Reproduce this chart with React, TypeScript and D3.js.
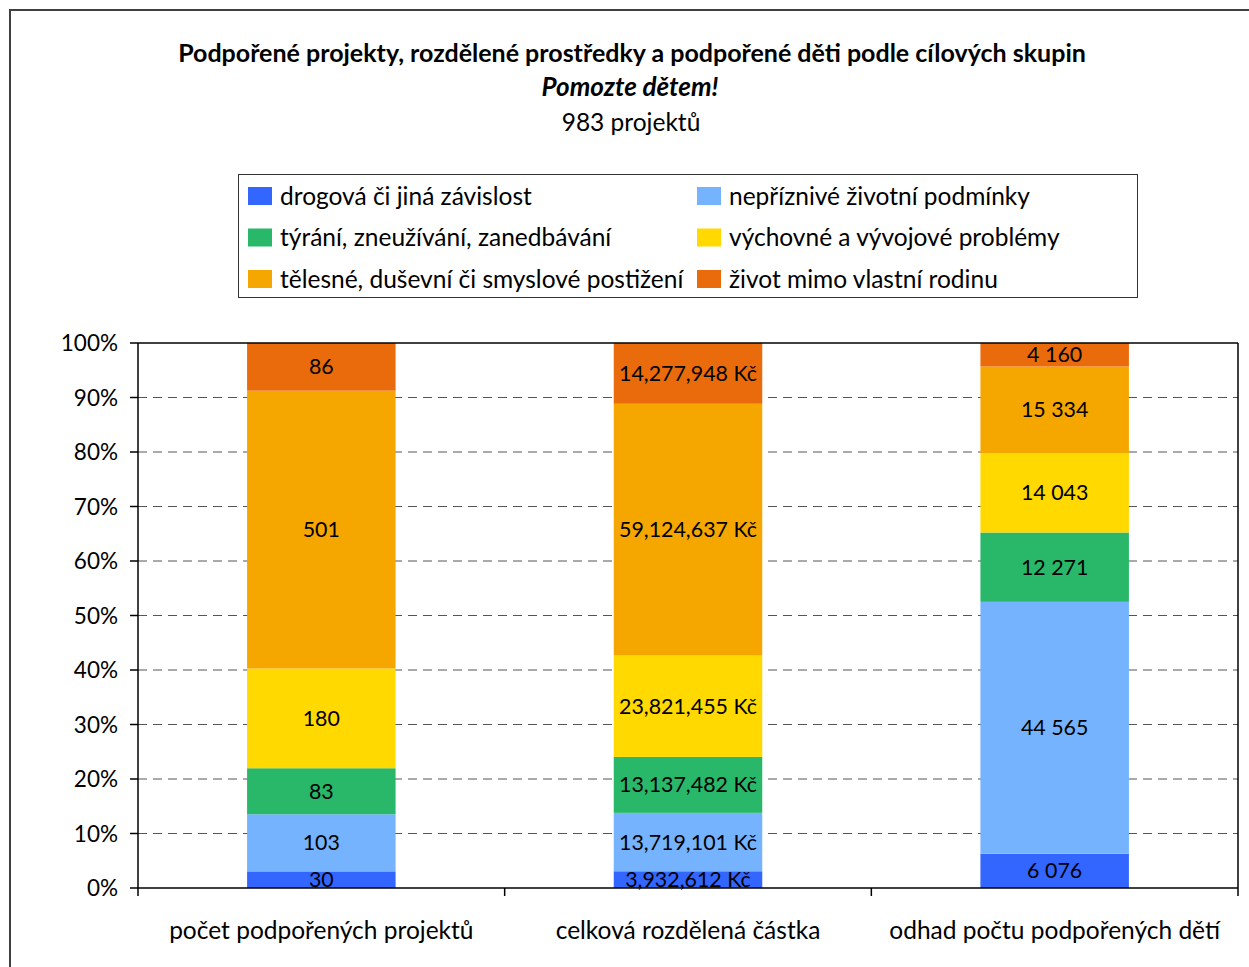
import React from "react";
import * as d3 from "d3";

const categories = ["počet podpořených projektů", "celková rozdělená částka", "odhad počtu podpořených dětí"];
const seriesNames = [
  "drogová či jiná závislost",
  "nepříznivé životní podmínky",
  "týrání, zneužívání, zanedbávání",
  "výchovné a vývojové problémy",
  "tělesné, duševní či smyslové postižení",
  "život mimo vlastní rodinu",
];
const colors = ["#3366FF", "#75B3FF", "#29B86A", "#FFD900", "#F5A700", "#EA6B0C"];
const projects = [30, 103, 83, 180, 501, 86];
const amounts = [3932612, 13719101, 13137482, 23821455, 59124637, 14277948];
const children = [6076, 44565, 12271, 14043, 15334, 4160];
const yTicks = [0, 0.1, 0.2, 0.3, 0.4, 0.5, 0.6, 0.7, 0.8, 0.9, 1];

const values = [projects, amounts, children];
const fmt = [
  (v: number) => String(v),
  (v: number) => d3.format(",")(v) + " Kč",
  (v: number) => d3.format(",")(v).replace(/,/g, " "),
];

const W = 1249, H = 967;
const L = 138, R = 1238, T = 343, B = 888;
const FONT = "Lato, 'Open Sans', sans-serif";

export default function App() {
  const x = d3.scaleBand<string>().domain(categories).range([L, R]).paddingInner(0.595).paddingOuter(0.2975);
  const y = d3.scaleLinear().domain([0, 1]).range([B, T]);
  const step = x.step();

  const segs: any[] = [];
  values.forEach((vals, ci) => {
    const total = d3.sum(vals);
    let acc = 0;
    vals.forEach((v, si) => {
      const y0 = acc / total;
      acc += v;
      const y1 = acc / total;
      segs.push({ ci, si, y0, y1, v });
    });
  });

  return (
    <svg width={W} height={H} style={{ position: "absolute", left: 0, top: 0 }} fontFamily={FONT}>
      <rect x={0} y={0} width={W} height={H} fill="#fff" />
      <rect x={10} y={10} width={W + 20} height={H + 20} fill="none" stroke="#404040" strokeWidth={2} />
      <text x={632} y={61.5} textAnchor="middle" fontSize={25} fontWeight="bold">Podpořené projekty, rozdělené prostředky a podpořené děti podle cílových skupin</text>
      <text x={630} y={95.5} textAnchor="middle" fontSize={26} fontWeight="bold" fontStyle="italic">Pomozte dětem!</text>
      <text x={631} y={130.5} textAnchor="middle" fontSize={24.5}>983 projektů</text>

      {/* legend */}
      <rect x={238.5} y={174.5} width={899} height={123} fill="#fff" stroke="#333" strokeWidth={1} />
      {seriesNames.map((n, i) => {
        const col = i % 2, row = Math.floor(i / 2);
        const lx = col === 0 ? 248 : 697;
        const ly = 196 + row * 41.5;
        return (
          <g key={n}>
            <rect x={lx} y={ly - 9} width={24} height={18} fill={colors[i]} />
            <text x={lx + 32} y={ly + 8.5} fontSize={24.5}>{n}</text>
          </g>
        );
      })}

      {/* gridlines */}
      {yTicks.slice(1, -1).map((t) => (
        <line key={t} x1={L} x2={R} y1={y(t)} y2={y(t)} stroke="#555" strokeDasharray="9,6" strokeWidth={1} />
      ))}

      {/* bars */}
      {segs.map((s) => (
        <rect key={s.ci + "-" + s.si} x={x(categories[s.ci])} width={x.bandwidth()} y={y(s.y1)} height={y(s.y0) - y(s.y1)} fill={colors[s.si]} />
      ))}
      {segs.map((s) => (
        <text key={"t" + s.ci + "-" + s.si} x={(x(categories[s.ci]) as number) + x.bandwidth() / 2} y={(y(s.y0) + y(s.y1)) / 2 + 7.5} textAnchor="middle" fontSize={21.4}>{fmt[s.ci](s.v)}</text>
      ))}

      {/* plot border */}
      <line x1={L} x2={R} y1={T} y2={T} stroke="#000" strokeWidth={1.5} />
      <line x1={R} x2={R} y1={T} y2={B} stroke="#000" strokeWidth={1.5} />
      {/* axes */}
      <line x1={L} x2={L} y1={T} y2={B + 8} stroke="#000" strokeWidth={1.5} />
      <line x1={L} x2={R} y1={B} y2={B} stroke="#000" strokeWidth={1.5} />
      {yTicks.map((t) => (
        <g key={"yt" + t}>
          <line x1={L - 8} x2={L} y1={y(t)} y2={y(t)} stroke="#000" strokeWidth={1.5} />
          <text x={118} y={y(t) + 8} textAnchor="end" fontSize={22.5}>{d3.format(".0%")(t)}</text>
        </g>
      ))}
      {categories.map((c, i) => (
        <g key={c}>
          <line x1={L + step * (i + 1)} x2={L + step * (i + 1)} y1={B} y2={B + 8} stroke="#000" strokeWidth={1.5} />
          <text x={(x(c) as number) + x.bandwidth() / 2} y={939} textAnchor="middle" fontSize={24.5}>{c}</text>
        </g>
      ))}
    </svg>
  );
}
